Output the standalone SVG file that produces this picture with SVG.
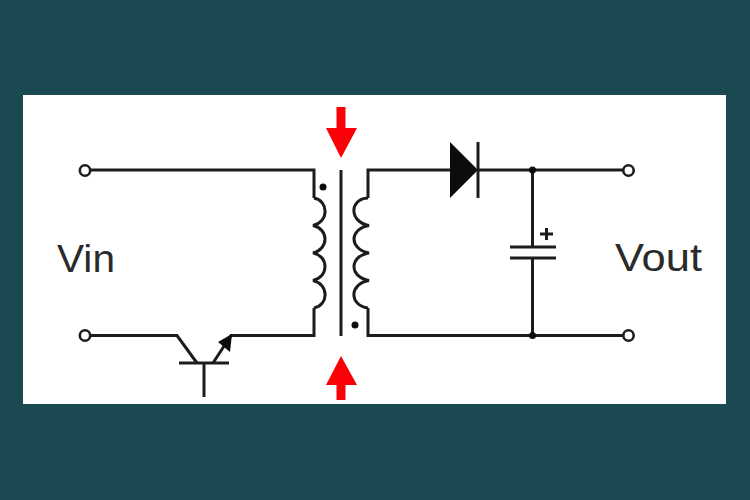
<svg xmlns="http://www.w3.org/2000/svg" width="750" height="500" viewBox="0 0 750 500">
<style>
.w{fill:none;stroke:#1c1c1c;stroke-width:3;stroke-linejoin:miter}
.t{fill:#fff;stroke:#1c1c1c;stroke-width:2.6}
.d{fill:#0c0c0c}
.r{fill:#fb0007}
.l{font-family:"Liberation Sans",Arial,sans-serif;font-size:39px;fill:#2a2a2a}
</style>
<rect width="750" height="500" fill="#1a4951"/>
<rect x="23" y="95" width="703" height="309" fill="#fff"/>
<g id="connectors">
<path class="w" d="M90 170H314V198"/>
<path class="w" d="M90 335.500H177L197 363"/>
<path class="w" d="M213 363L231 335.500H314V308"/>
<path class="w" d="M368 198V170H450"/>
<path class="w" d="M368 308V335.500H623"/>
<path class="w" d="M478 170H623"/>
<path class="w" d="M532.500 170V247"/>
<path class="w" d="M532.500 258V335.500"/>
</g>
<g id="primary-winding"><path class="w" d="M314 198C329 201 329 222 313 225.500C329 229 329 249 313 253C329 256 329 277 313 280.500C329 284 329 305 314 308"/><circle class="d" cx="323" cy="187" r="3.500"/></g>
<g id="core"><path class="w" d="M341 170V336"/></g>
<g id="secondary-winding"><path class="w" d="M368 198C349 199 349 222 369 225.500C349 229 349 249 369 253C349 256 349 277 369 280.500C349 284 349 305 368 308"/><circle class="d" cx="355" cy="325" r="3.500"/></g>
<g id="arrow-top"><path class="r" d="M336.500 107H345.500V128H357L341 158L326 128H336.500Z"/></g>
<g id="arrow-bottom"><path class="r" d="M336.500 400H345.500V385H357L341 356L326 385H336.500Z"/></g>
<g id="transistor"><path class="w" d="M179 363H229M204 363V397"/><path class="d" d="M232 334L230 352L218 342Z"/></g>
<g id="diode"><path class="d" d="M450 142L478 170L450 198Z"/><path class="w" d="M478 142V198"/></g>
<g id="capacitor"><path class="w" d="M510 247H556M510 258H556"/><path class="w" d="M540 234H553M546.500 228V240"/></g>
<g id="junctions"><circle class="d" cx="532.500" cy="170" r="3.500"/><circle class="d" cx="532.500" cy="335.500" r="3.500"/></g>
<g id="terminals"><circle class="t" cx="85" cy="170.500" r="5.200"/><circle class="t" cx="85" cy="335.500" r="5.200"/><circle class="t" cx="628.500" cy="170.500" r="5.200"/><circle class="t" cx="628.500" cy="335.500" r="5.200"/></g>
<g id="labels"><text class="l" x="57" y="272" textLength="58" lengthAdjust="spacingAndGlyphs">Vin</text><text class="l" x="615" y="271" textLength="87" lengthAdjust="spacingAndGlyphs">Vout</text></g>
</svg>
